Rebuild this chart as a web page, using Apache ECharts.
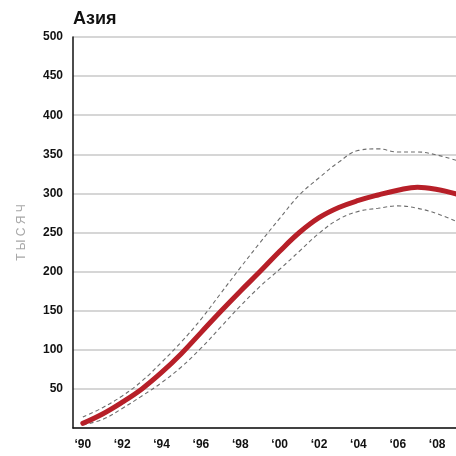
<!DOCTYPE html>
<html>
<head>
<meta charset="utf-8">
<script src="https://cdn.jsdelivr.net/npm/echarts@6/dist/echarts.min.js"></script>
<style>html,body{margin:0;padding:0;background:#fff}#c{width:456px;height:456px}</style>
</head>
<body>
<div id="c"></div>
<script>
const years = ['1990','1991','1992','1993','1994','1995','1996','1997','1998','1999','2000','2001','2002','2003','2004','2005','2006','2007','2008','2009'];
const central = [6, 18, 33, 50, 71, 95, 122, 149, 175, 200, 226, 250, 269, 282, 291, 298, 304, 308, 305, 299];
const upper = [14, 26, 41, 60, 84, 110, 139, 172, 205, 237, 268, 298, 320, 340, 355, 357, 353, 353, 349, 342];
const lower = [4, 11, 25, 41, 58, 78, 102, 129, 156, 181, 203, 226, 249, 267, 277, 281, 284, 281, 274, 264];
const titleText = 'Азия';
const yName = 'Т Ы С Я Ч';

const FONT = 'Liberation Sans, Arial, sans-serif';
const chart = echarts.init(document.getElementById('c'));
const dashStyle = {color: '#6e6e6e', width: 1.1, type: [4, 3]};
chart.setOption({
  animation: false,
  title: {text: titleText, left: 73, top: 10, padding: 0, textStyle: {fontFamily: FONT, fontSize: 18, fontWeight: 'bold', color: '#111'}},
  grid: {left: 73, top: 37, width: 393.7, bottom: 28, containLabel: false, outerBoundsMode: 'none'},
  xAxis: {
    type: 'category', data: years, boundaryGap: true, offset: 3,
    axisLine: {lineStyle: {color: '#111', width: 1.5}},
    axisTick: {interval: 0, length: 4, lineStyle: {color: '#111', width: 1.2}},
    axisLabel: {interval: 1, margin: 8, fontFamily: FONT, fontSize: 12, fontWeight: 'bold', color: '#111',
      formatter: v => '\u2018' + v.slice(2)}
  },
  yAxis: {
    type: 'value', min: 0, max: 500, interval: 50,
    name: yName, nameLocation: 'middle', nameRotate: 90, nameGap: 45,
    nameTextStyle: {fontFamily: FONT, fontSize: 12, color: '#a8a8a8'},
    axisLine: {show: true, lineStyle: {color: '#111', width: 1.5}},
    axisTick: {show: false},
    axisLabel: {showMinLabel: false, margin: 10, fontFamily: FONT, fontSize: 12, fontWeight: 'bold', color: '#111'},
    splitLine: {lineStyle: {color: '#c8c8c8', width: 1.5}}
  },
  series: [
    {type: 'line', data: upper, smooth: 0.4, symbol: 'none', lineStyle: dashStyle, z: 2},
    {type: 'line', data: lower, smooth: 0.4, symbol: 'none', lineStyle: dashStyle, z: 2},
    {type: 'line', data: central, smooth: 0.4, symbol: 'none', lineStyle: {color: '#b71f28', width: 5, cap: 'round'}, z: 3}
  ]
});
</script>
</body>
</html>
